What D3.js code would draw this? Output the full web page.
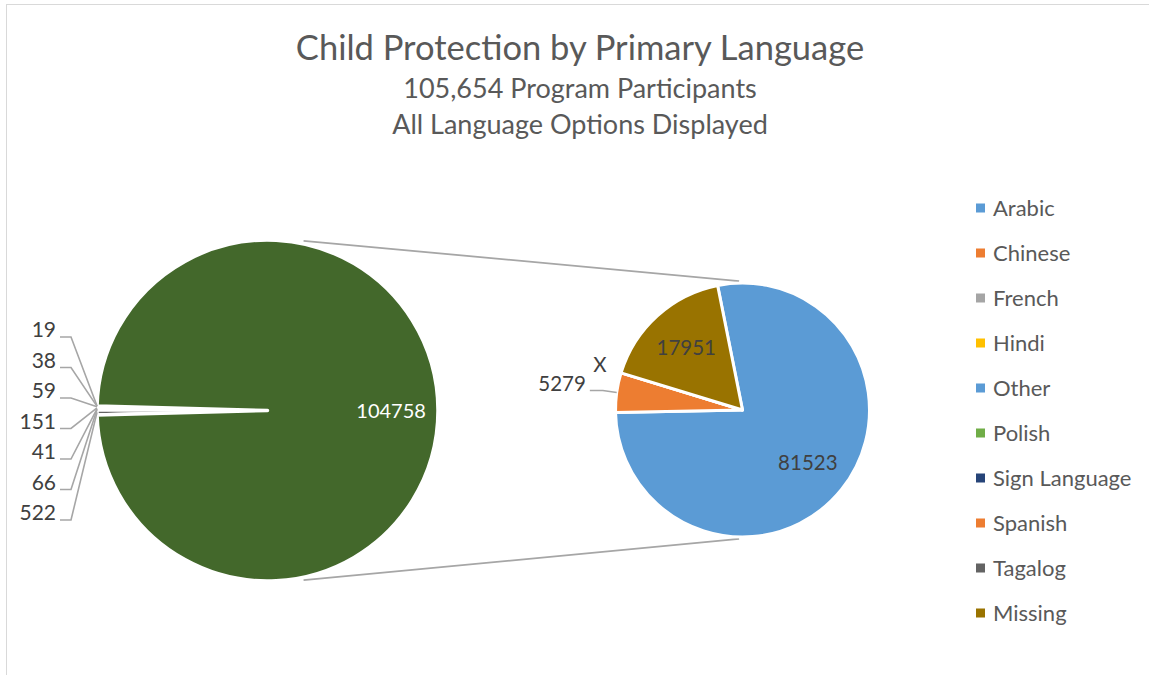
<!DOCTYPE html>
<html>
<head>
<meta charset="utf-8">
<script src="https://cdn.jsdelivr.net/npm/d3@7"></script>
<style>
  body { margin: 0; background: #fff; }
  text { font-family: Lato, "Open Sans", sans-serif; }
</style>
</head>
<body>
<svg id="chart"></svg>
<script>
// small languages shown in the first pie
const mainLabels = ["Arabic", "Chinese", "French", "Hindi", "Polish", "Sign Language", "Tagalog"];
const mainValues = [19, 38, 59, 151, 41, 66, 522];
const mainColors = ["#5B9BD5", "#ED7D31", "#A5A5A5", "#FFC000", "#70AD47", "#264478", "#636363"];

// the big slice is split out into the second pie
const subLabels = ["Other", "Spanish", "Suppressed", "Missing"];
const subValues = [81523, 5279, 5, 17951];
const subText   = ["81523", "5279", "X", "17951"];
const subColors = ["#5B9BD5", "#ED7D31", "#7F7F7F", "#997300"];
const groupColor = "#43682B";

const legendLabels = ["Arabic", "Chinese", "French", "Hindi", "Other", "Polish", "Sign Language", "Spanish", "Tagalog", "Missing"];
const legendColors = ["#5B9BD5", "#ED7D31", "#A5A5A5", "#FFC000", "#5B9BD5", "#70AD47", "#264478", "#ED7D31", "#636363", "#997300"];

const titleLines = ["Child Protection by Primary Language", "105,654 Program Participants", "All Language Options Displayed"];

const width = 1149, height = 675;
const textColor = "#595959", labelColor = "#404040", lineColor = "#A6A6A6";

const svg = d3.select("#chart")
  .attr("width", width)
  .attr("height", height);

// chart frame (right and bottom edges fall outside the window)
svg.append("rect")
  .attr("x", 6.5).attr("y", 4.5)
  .attr("width", width + 20).attr("height", height + 20)
  .attr("fill", "none")
  .attr("stroke", "#D9D9D9");

// titles
const titleSizes = [34.5, 27, 27];
const titleBase = [60, 98, 134];
svg.selectAll("text.title")
  .data(titleLines)
  .enter()
  .append("text")
    .attr("class", "title")
    .attr("x", 580)
    .attr("y", (d, i) => titleBase[i])
    .attr("text-anchor", "middle")
    .attr("font-size", (d, i) => titleSizes[i])
    .attr("fill", textColor)
    .text(d => d);

// ---- pie 1 ----
const c1 = { x: 267.5, y: 410.5 }, r1 = 170.5;
const c2 = { x: 742.5, y: 410 }, r2 = 127;

const groupValue = d3.sum(subValues);
const mainData = mainLabels.map((l, i) => ({ label: l, value: mainValues[i], color: mainColors[i] }));
mainData.push({ label: "group", value: groupValue, color: groupColor, group: true });

const total = d3.sum(mainData, d => d.value);
const smallSpan = 2 * Math.PI * d3.sum(mainValues) / total;
const a0 = 1.5 * Math.PI + smallSpan / 2;   // big slice centred on 3 o'clock

const pie1 = d3.pie().value(d => d.value).sort(null)
  .startAngle(a0).endAngle(a0 - 2 * Math.PI);
const arc1 = d3.arc().innerRadius(0).outerRadius(r1);
const arcs1 = pie1(mainData);

const g1 = svg.append("g").attr("transform", `translate(${c1.x},${c1.y})`);
g1.selectAll("path")
  .data(arcs1)
  .enter()
  .append("path")
    .attr("d", arc1)
    .attr("fill", d => d.data.color)
    .attr("stroke", "#fff")
    .attr("stroke-width", 3.5)
    .attr("stroke-linejoin", "round");

const polar = (a, r) => [r * Math.sin(a), -r * Math.cos(a)];
const mid = d => (d.startAngle + d.endAngle) / 2;

// big slice value
const big = arcs1.find(d => d.data.group);
g1.append("text")
  .attr("x", polar(mid(big), r1 * 0.725)[0])
  .attr("y", polar(mid(big), r1 * 0.725)[1])
  .attr("dy", "0.35em")
  .attr("text-anchor", "middle")
  .attr("font-size", 20)
  .attr("fill", "#fff")
  .text(groupValue);

// small slice labels stacked at the left
const labelY = d3.scalePoint().domain(mainLabels).range([330, 513]);
const labelX = 56;
const smallArcs = arcs1.filter(d => !d.data.group);

svg.selectAll("polyline.lead1")
  .data(smallArcs)
  .enter()
  .append("polyline")
    .attr("class", "lead1")
    .attr("fill", "none")
    .attr("stroke", lineColor)
    .attr("stroke-width", 1.6)
    .attr("points", d => {
      const y = labelY(d.data.label) + 7;
      const p = polar(mid(d), r1);
      return [[labelX + 4, y], [labelX + 15, y], [c1.x + p[0], c1.y + p[1]]].join(" ");
    });

svg.selectAll("text.lab1")
  .data(smallArcs)
  .enter()
  .append("text")
    .attr("class", "lab1")
    .attr("x", labelX)
    .attr("y", d => labelY(d.data.label))
    .attr("dy", "0.35em")
    .attr("text-anchor", "end")
    .attr("font-size", 21)
    .attr("fill", labelColor)
    .text(d => d.data.value);

// ---- connector lines ----
const deg = Math.PI / 180;
const conn = [[12 * deg, -1.5 * deg], [168 * deg, 181.5 * deg]];
svg.selectAll("line.conn")
  .data(conn)
  .enter()
  .append("line")
    .attr("class", "conn")
    .attr("x1", d => c1.x + polar(d[0], r1 + 3)[0])
    .attr("y1", d => c1.y + polar(d[0], r1 + 3)[1])
    .attr("x2", d => c2.x + polar(d[1], r2 + 2)[0])
    .attr("y2", d => c2.y + polar(d[1], r2 + 2)[1])
    .attr("stroke", lineColor)
    .attr("stroke-width", 1.8);

// ---- pie 2 ----
const subData = subLabels.map((l, i) => ({ label: l, value: subValues[i], color: subColors[i], text: subText[i] }));
const s0 = -11.3 * deg;
const pie2 = d3.pie().value(d => d.value).sort(null)
  .startAngle(s0).endAngle(s0 + 2 * Math.PI);
const arc2 = d3.arc().innerRadius(0).outerRadius(r2);
const arcs2 = pie2(subData);

const g2 = svg.append("g").attr("transform", `translate(${c2.x},${c2.y})`);
g2.selectAll("path")
  .data(arcs2)
  .enter()
  .append("path")
    .attr("d", arc2)
    .attr("fill", d => d.data.color)
    .attr("stroke", "#fff")
    .attr("stroke-width", 3)
    .attr("stroke-linejoin", "round");

arcs2.forEach(d => {
  const span = d.endAngle - d.startAngle;
  const m = mid(d);
  if (span > 0.6) {
    const p = polar(m, r2 * 0.66);
    g2.append("text")
      .attr("x", p[0]).attr("y", p[1])
      .attr("dy", "0.35em")
      .attr("text-anchor", "middle")
      .attr("font-size", 20.5)
      .attr("fill", labelColor)
      .text(d.data.text);
  } else if (d.data.value >= 100) {
    const e = polar(m, r2 + 14), s = polar(m, r2);
    g2.append("polyline")
      .attr("fill", "none")
      .attr("stroke", lineColor)
      .attr("stroke-width", 1.6)
      .attr("points", [[e[0] - 13, e[1]], e, s].join(" "));
    g2.append("text")
      .attr("x", e[0] - 17).attr("y", e[1] - 7)
      .attr("dy", "0.35em")
      .attr("text-anchor", "end")
      .attr("font-size", 20.5)
      .attr("fill", labelColor)
      .text(d.data.text);
  } else {
    const p = polar(m, r2 + 22);
    g2.append("text")
      .attr("x", p[0]).attr("y", p[1] - 2)
      .attr("dy", "0.35em")
      .attr("text-anchor", "middle")
      .attr("font-size", 20.5)
      .attr("fill", labelColor)
      .text(d.data.text);
  }
});

// ---- legend ----
const legY = d3.scalePoint().domain(legendLabels).range([208, 613]);
const leg = svg.selectAll("g.leg")
  .data(legendLabels)
  .enter()
  .append("g")
    .attr("class", "leg")
    .attr("transform", d => `translate(976,${legY(d)})`);
leg.append("rect")
  .attr("x", 0).attr("y", -4.5)
  .attr("width", 9).attr("height", 9)
  .attr("fill", (d, i) => legendColors[i]);
leg.append("text")
  .attr("x", 17)
  .attr("dy", "0.35em")
  .attr("font-size", 22)
  .attr("fill", textColor)
  .text(d => d);
</script>
</body>
</html>
